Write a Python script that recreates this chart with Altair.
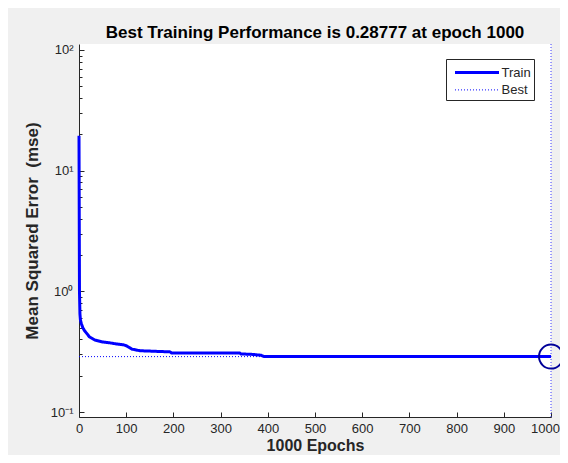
import altair as alt
import pandas as pd

# ---- data ----
epochs = [0, 1, 2, 3, 5, 8, 12, 16, 22, 34, 51, 66, 80, 95, 101, 108, 112, 129,
          193, 196, 340, 343, 369, 386, 392, 1000]
mse = [19.5, 1.0, 0.65, 0.58, 0.54, 0.50, 0.47, 0.45, 0.42, 0.394, 0.38, 0.374,
       0.366, 0.36, 0.353, 0.34, 0.332, 0.322, 0.315, 0.309, 0.309, 0.303, 0.300,
       0.295, 0.28777, 0.28777]
best_value = 0.28777
best_epoch = 1000
series_names = ["Train", "Best"]
x_tick_values = [0, 100, 200, 300, 400, 500, 600, 700, 800, 900, 1000]
y_tick_values = [0.1, 1, 10, 100]
y_tick_labels = ["10⁻¹", "10⁰", "10¹", "10²"]
y_minor_values = [m * 10 ** e for e in (-1, 0, 1) for m in range(2, 10)]
title_text = "Best Training Performance is 0.28777 at epoch 1000"
x_title = "1000 Epochs"
y_title = "Mean Squared Error\u00a0 (mse)"

train_df = pd.DataFrame({"epoch": epochs, "mse": mse, "series": "Train"})
best_df = pd.DataFrame({"start": [0], "end": [best_epoch], "mse": [best_value],
                        "series": ["Best"], "epoch": [best_epoch]})

FONT = "Liberation Sans"
AX = "#262626"

label_expr = " : ".join(
    f"datum.value == {v} ? '{l}'" for v, l in zip(y_tick_values, y_tick_labels)
) + " : ''"

xscale = alt.Scale(domain=[0, 1000], nice=False, zero=False)
yscale = alt.Scale(type="log", domain=[10 ** -1.0414, 10 ** 2.0497], nice=False)

leg = alt.Legend(title=None)
color = alt.Color("series:N", scale=alt.Scale(domain=series_names, range=["#0000ff", "#0000ff"]), legend=leg)
dash = alt.StrokeDash("series:N", scale=alt.Scale(domain=series_names, range=[[1, 0], [1, 2]]), legend=leg)
width_ch = alt.StrokeWidth("series:N", scale=alt.Scale(domain=series_names, range=[3, 1]), legend=leg)

train = alt.Chart(train_df).mark_line().encode(
    x=alt.X("epoch:Q", scale=xscale, axis=alt.Axis(
        orient="bottom", values=x_tick_values, format="d", ticks=False, grid=False,
        labelFlush=False,
        labelOffset=alt.condition("datum.value == 1000", alt.value(-6), alt.value(0)),
        domainColor=AX, labelColor=AX, labelFontSize=13, labelFont=FONT,
        labelPadding=5, title=x_title, titleFont=FONT, titleFontSize=16,
        titleColor=AX, titleFontWeight="bold", titlePadding=2)),
    y=alt.Y("mse:Q", scale=yscale, axis=alt.Axis(
        orient="left", values=y_tick_values, labelExpr=label_expr, ticks=False,
        grid=False, domainColor=AX, labelColor=AX, labelFontSize=13,
        labelFont=FONT, labelPadding=6, title=y_title, titleFont=FONT,
        titleFontSize=17, titleColor=AX, titleFontWeight="bold", titlePadding=9)),
    color=color, strokeDash=dash, strokeWidth=width_ch,
)

best_h = alt.Chart(best_df).mark_rule().encode(
    x=alt.X("start:Q", scale=xscale, axis=None),
    x2="end:Q",
    y=alt.Y("mse:Q", scale=yscale, axis=None),
    color=color, strokeDash=dash, strokeWidth=width_ch,
)

best_v = alt.Chart(best_df).mark_rule(color="#3a3aff", strokeDash=[1, 2], strokeWidth=1).encode(
    x=alt.X("epoch:Q", scale=xscale, axis=None),
)

circle = alt.Chart(best_df).mark_point(shape="circle", filled=False, size=576,
                                       strokeWidth=2, color="#000099", opacity=1).encode(
    x=alt.X("epoch:Q", scale=xscale, axis=None),
    y=alt.Y("mse:Q", scale=yscale, axis=None),
)

# inward tick marks (axes shifted inside the plot)
ticks_major = alt.Chart(train_df).mark_point(opacity=0).encode(
    x=alt.X("epoch:Q", scale=xscale, axis=alt.Axis(
        orient="bottom", offset=-5, tickSize=5, labels=False, domain=False,
        grid=False, title=None, values=x_tick_values, tickColor=AX)),
    y=alt.Y("mse:Q", scale=yscale, axis=alt.Axis(
        orient="left", offset=-5, tickSize=5, labels=False, domain=False,
        grid=False, title=None, values=y_tick_values, tickColor=AX)),
)
ticks_minor = alt.Chart(train_df).mark_point(opacity=0).encode(
    x=alt.X("epoch:Q", scale=xscale, axis=None),
    y=alt.Y("mse:Q", scale=yscale, axis=alt.Axis(
        orient="left", offset=-3, tickSize=3, labels=False, domain=False,
        grid=False, title=None, values=y_minor_values, tickColor=AX)),
)

chart = alt.layer(best_h, best_v, train, circle, ticks_major, ticks_minor).resolve_axis(
    x="independent", y="independent"
).properties(
    width=472, height=373,
    title=alt.Title(title_text, font=FONT, fontSize=17, fontWeight="bold",
                    color="black", anchor="middle", offset=2),
    background="#f0f0f0",
    autosize=alt.AutoSizeParams(type="none"),
    padding={"left": 71, "top": 36, "right": 9, "bottom": 38},
).configure_view(
    fill="white", strokeWidth=0
).configure_legend(
    orient="none", legendX=367, legendY=15, fillColor="white",
    strokeColor=AX, padding=3, symbolType="M-2.5,0L2.5,0", symbolSize=310,
    symbolOffset=17.5, labelOffset=14, labelFont=FONT, labelFontSize=13,
    labelColor=AX, rowPadding=0.4, symbolStrokeColor="#0000ff",
)

chart.save("out.html", embed_options={"renderer": "svg", "actions": False})
